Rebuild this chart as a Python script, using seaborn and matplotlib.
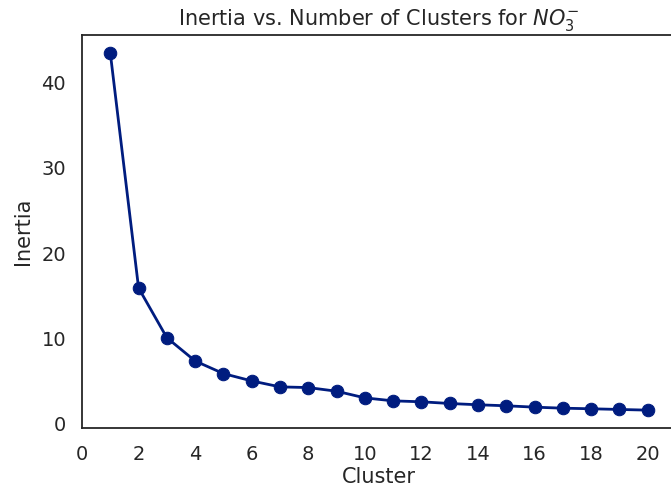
import pandas as pd
import seaborn as sns
import matplotlib
matplotlib.use("Agg")
import matplotlib.pyplot as plt

# inertia values
clusters = list(range(1, 21))
inertia = [43.5, 15.9, 10.06, 7.33, 5.85, 4.99, 4.29, 4.21, 3.78, 3.0,
           2.65, 2.54, 2.34, 2.19, 2.07, 1.91, 1.79, 1.72, 1.64, 1.56]
xticks = list(range(0, 21, 2))


def main():
    sns.set_style("white")
    df = pd.DataFrame({"Cluster": clusters, "Inertia": inertia})

    fig = plt.figure(figsize=(6.71, 4.94), dpi=100)
    # axes run a bit past the right edge, like the cropped original
    ax = fig.add_axes([82 / 671, 1 - 428 / 494, 594 / 671, 393 / 494])
    sns.lineplot(data=df, x="Cluster", y="Inertia", ax=ax,
                 color="#001c7f", marker="o", markersize=9,
                 markeredgecolor="#001c7f", linewidth=2)
    for s in ax.spines.values():
        s.set_color("#262626")
        s.set_linewidth(1.3)
    ax.set_xlim(0, 21)
    ax.set_xticks(xticks)
    ax.tick_params(labelsize=14, colors="#262626")
    ax.tick_params(axis="x", pad=9)
    ax.tick_params(axis="y", pad=8)
    ax.set_xlabel("Cluster", fontsize=15, color="#262626", labelpad=2)
    ax.set_ylabel("Inertia", fontsize=15, color="#262626", labelpad=6)
    ax.set_title("Inertia vs. Number of Clusters for $NO_3^{-}$",
                 fontsize=15, color="#262626", pad=7)
    fig.savefig("out.png", dpi=100)


if __name__ == "__main__":
    main()
